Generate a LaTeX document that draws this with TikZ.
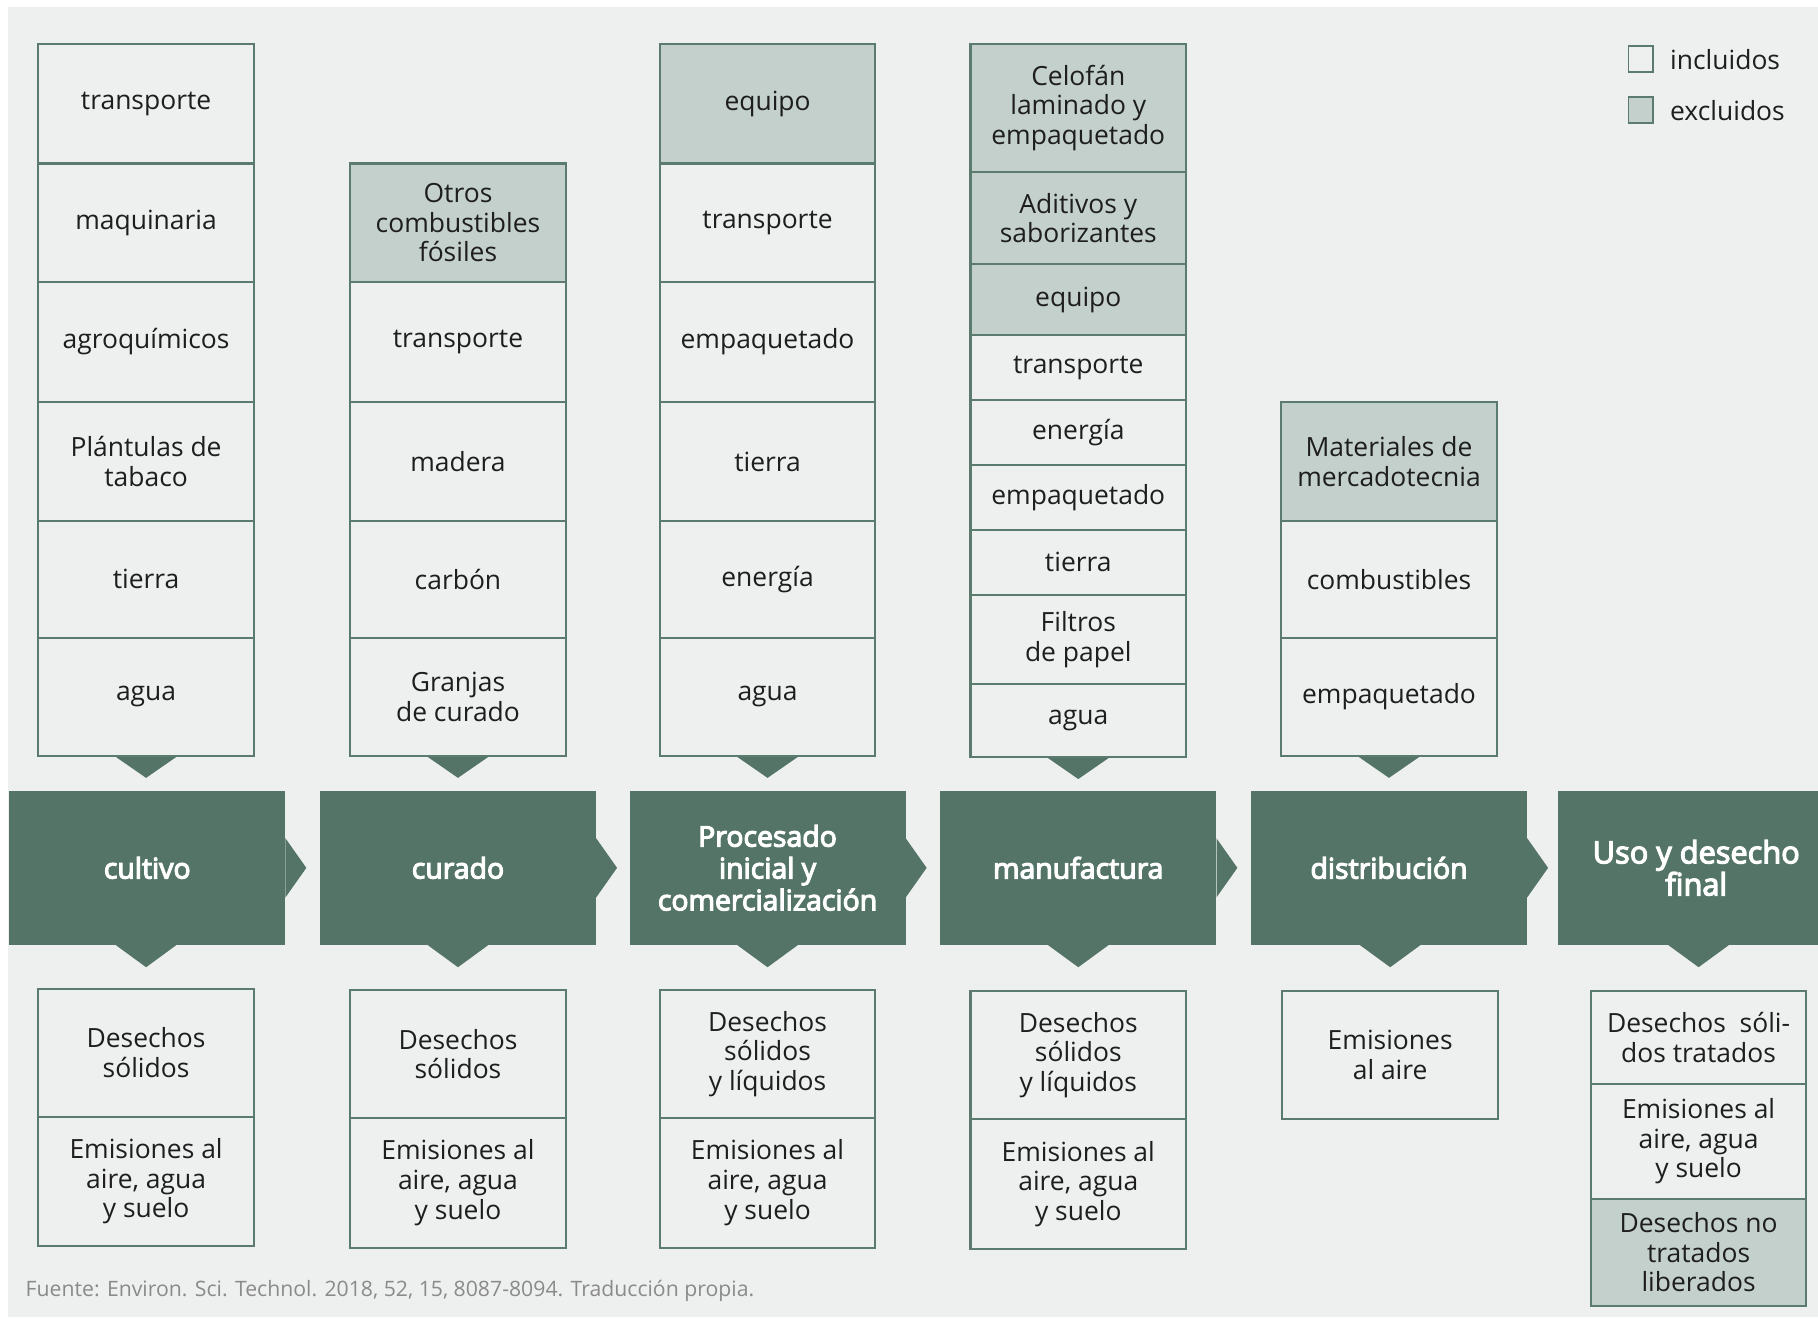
\documentclass[tikz,border=0pt]{standalone}
\usepackage{fontspec}
\setmainfont{Open Sans}
\newfontfamily\sbfont[FakeBold=4]{Open Sans}
\definecolor{grn}{HTML}{537466}
\definecolor{bdr}{HTML}{5B7B6E}
\definecolor{bg}{HTML}{EEF0EF}
\definecolor{exc}{HTML}{C3D0CB}
\definecolor{txt}{HTML}{1E1E1E}
\definecolor{foot}{HTML}{8A8A8A}
\newcommand\bx[6]{\node[#2, minimum height={(#5-#4)*1pt}] (#1) at ({#3+93},{(#4+#5)/2}) {#6};}
\newcommand\stg[3]{\node[stage, minimum width=238pt] (#1) at (#2,748.5) {#3};
  \fill[grn] ([yshift=-25.5pt]#1.east) -- ([xshift=18pt]#1.east) -- ([yshift=25.5pt]#1.east) -- cycle;}
\newcommand\tridown[2]{\fill[grn] ([xshift=-26pt]#2) -- ([xshift=26pt]#2) -- ([yshift=-#1pt]#2) -- cycle;}
\begin{document}
\begin{tikzpicture}[x=1pt,y=-1pt,
  box/.style={draw=bdr, line width=1.8pt, fill=bg, minimum width=186pt, inner sep=0pt, align=center, text=txt, font=\fontsize{22.8}{25.5}\selectfont},
  excl/.style={box, fill=exc},
  stage/.style={fill=grn, minimum height=133pt, inner sep=0pt, align=center, text=white, font=\sbfont\fontsize{24.5}{27.5}\selectfont}]
\useasboundingbox (0,0) rectangle (1568,1136);
\fill[white] (0,0) rectangle (1568,1136);
\fill[bg] (7,6) rectangle (1568,1136);
% column 1
\bx{a1}{box}{33}{38}{141}{transporte}
\bx{a2}{box}{33}{141}{243}{maquinaria}
\bx{a3}{box}{33}{243}{347}{agroquímicos}
\bx{a4}{box}{33}{347}{449}{Plántulas de\\tabaco}
\bx{a5}{box}{33}{449}{550}{tierra}
\bx{a6}{box}{33}{550}{652}{agua}
% column 2
\bx{b1}{excl}{302}{141}{243}{Otros\\combustibles\\fósiles}
\bx{b2}{box}{302}{243}{347}{transporte}
\bx{b3}{box}{302}{347}{449}{madera}
\bx{b4}{box}{302}{449}{550}{carbón}
\bx{b5}{box}{302}{550}{652}{Granjas\\de curado}
% column 3
\bx{c1}{excl}{569}{38}{141}{equipo}
\bx{c2}{box}{569}{141}{243}{transporte}
\bx{c3}{box}{569}{243}{347}{empaquetado}
\bx{c4}{box}{569}{347}{449}{tierra}
\bx{c5}{box}{569}{449}{550}{energía}
\bx{c6}{box}{569}{550}{652}{agua}
% column 4
\bx{d1}{excl}{837}{38}{148}{Celofán\\laminado y\\empaquetado}
\bx{d2}{excl}{837}{148}{228}{Aditivos y\\saborizantes}
\bx{d3}{excl}{837}{228}{289}{equipo}
\bx{d4}{box}{837}{289}{345}{transporte}
\bx{d5}{box}{837}{345}{401}{energía}
\bx{d6}{box}{837}{401}{457}{empaquetado}
\bx{d7}{box}{837}{457}{513}{tierra}
\bx{d8}{box}{837}{513}{590}{Filtros\\de papel}
\bx{d9}{box}{837}{590}{653}{agua}
% column 5
\bx{e1}{excl}{1105}{347}{449}{Materiales de\\mercadotecnia}
\bx{e2}{box}{1105}{449}{550}{combustibles}
\bx{e3}{box}{1105}{550}{652}{empaquetado}
% stages
\stg{s1}{127}{cultivo}
\stg{s2}{395}{curado}
\stg{s3}{662}{Procesado\\inicial y\\comercialización}
\stg{s4}{930}{manufactura}
\stg{s5}{1198}{distribución}
\node[stage, minimum width=238pt, font=\sbfont\fontsize{26.5}{25}\selectfont] (s6) at (1463,748.5) {Uso y desecho\\final};
% bottom boxes
\bx{f1}{box}{33}{853}{963}{Desechos\\sólidos}
\bx{f2}{box}{33}{963}{1075}{Emisiones al\\aire, agua\\y suelo}
\bx{g1}{box}{302}{854}{964}{Desechos\\sólidos}
\bx{g2}{box}{302}{964}{1076}{Emisiones al\\aire, agua\\y suelo}
\bx{h1}{box}{569}{854}{964}{Desechos\\sólidos\\y líquidos}
\bx{h2}{box}{569}{964}{1076}{Emisiones al\\aire, agua\\y suelo}
\bx{i1}{box}{837}{855}{965}{Desechos\\sólidos\\y líquidos}
\bx{i2}{box}{837}{965}{1077}{Emisiones al\\aire, agua\\y suelo}
\bx{j1}{box}{1106}{855}{965}{Emisiones\\al aire}
\bx{k1}{box}{1372}{855}{935}{Desechos\ \ sóli-\\dos tratados}
\bx{k2}{box}{1372}{935}{1034}{Emisiones al\\aire, agua\\y suelo}
\bx{k3}{excl}{1372}{1034}{1126}{Desechos no\\tratados\\liberados}
% triangles into the stages
\tridown{18}{a6.south}
\tridown{18}{b5.south}
\tridown{18}{c6.south}
\tridown{18}{d9.south}
\tridown{18}{e3.south}
% triangles out of the stages
\tridown{19}{f1.north |- s1.south}
\tridown{19}{g1.north |- s2.south}
\tridown{19}{h1.north |- s3.south}
\tridown{19}{i1.north |- s4.south}
\tridown{19}{j1.north |- s5.south}
\tridown{19}{k1.north |- s6.south}
% legend
\node[box, minimum width=21pt, minimum height=22pt, line width=1.6pt] (l1) at (1415,51) {};
\node[anchor=west, text=txt, font=\fontsize{22.8}{25.5}\selectfont, inner sep=0pt] (l1t) at ([xshift=14pt]l1.east) {incluidos};
\node[excl, minimum width=21pt, minimum height=22pt, line width=1.6pt] (l2) at (1415,95) {};
\node[anchor=west, text=txt, font=\fontsize{22.8}{25.5}\selectfont, inner sep=0pt] (l2t) at ([xshift=14pt]l2.east) {excluidos};
% source
\node[anchor=base west, text=foot, font=\fontsize{18.3}{21}\selectfont, inner sep=0pt] (src) at (22,1118) {Fuente: Environ. Sci. Technol. 2018, 52, 15, 8087-8094. Traducción propia.};
\end{tikzpicture}
\end{document}
